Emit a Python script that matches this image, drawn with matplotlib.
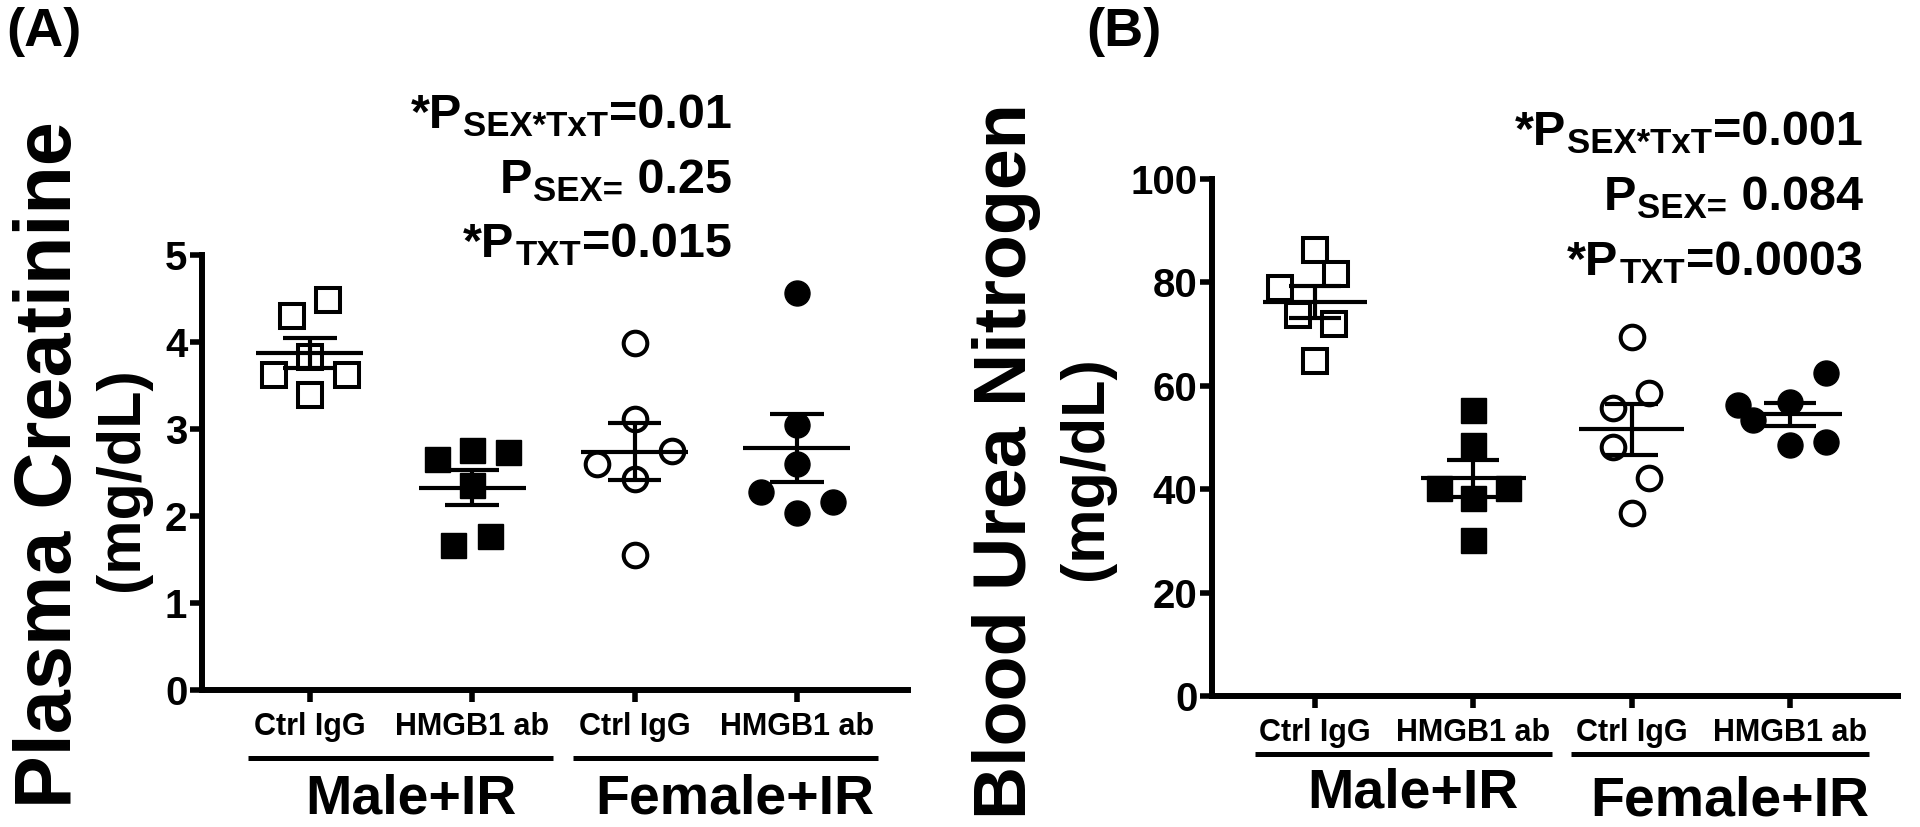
import numpy as np
import matplotlib.pyplot as plt
from matplotlib.transforms import blended_transform_factory

plt.rcParams['font.family'] = ['Liberation Sans', 'DejaVu Sans']
plt.rcParams['font.weight'] = 'bold'

# ---- data ----
treatments = ['Ctrl IgG', 'HMGB1 ab', 'Ctrl IgG', 'HMGB1 ab']
sex_groups = ['Male+IR', 'Female+IR']

creat_male_ctrl = [4.48, 4.30, 3.83, 3.62, 3.62, 3.39]
creat_male_hmgb1 = [2.76, 2.74, 2.65, 2.36, 1.77, 1.67]
creat_female_ctrl = [3.99, 3.11, 2.75, 2.60, 2.42, 1.55]
creat_female_hmgb1 = [4.56, 3.05, 2.60, 2.28, 2.16, 2.04]
# horizontal scatter of each point (category units)
creat_jitter = [[0.11, -0.11, 0, -0.22, 0.23, 0],
                [0, 0.22, -0.22, 0, 0.11, -0.12],
                [0, 0, 0.23, -0.23, 0, 0],
                [0, 0, 0, -0.22, 0.22, 0]]

bun_male_ctrl = [86.2, 81.7, 78.9, 73.7, 71.9, 64.8]
bun_male_hmgb1 = [55.3, 48.5, 40.2, 40.2, 38.3, 30.2]
bun_female_ctrl = [69.4, 58.6, 55.7, 48.2, 42.2, 35.4]
bun_female_hmgb1 = [62.5, 56.3, 56.9, 53.4, 48.5, 49.1]
bun_jitter = [[0, 0.13, -0.22, -0.11, 0.12, 0],
              [0, 0, -0.22, 0.22, 0, 0],
              [0, 0.11, -0.12, -0.12, 0.11, 0],
              [0.23, -0.33, 0, -0.23, 0, 0.23]]

creat_p = [('*P', 'SEX*TxT', '=0.01'), ('P', 'SEX=', ' 0.25'), ('*P', 'TXT', '=0.015')]
bun_p = [('*P', 'SEX*TxT', '=0.001'), ('P', 'SEX=', ' 0.084'), ('*P', 'TXT', '=0.0003')]

W, H = 1920, 827
fig = plt.figure(figsize=(W / 100, H / 100), dpi=100)


def fx(x):
    return x / W


def fy(y):
    return 1 - y / H


markers = [dict(marker='s', mfc='white'), dict(marker='s', mfc='black'),
           dict(marker='o', mfc='white'), dict(marker='o', mfc='black')]


def panel(rect, xlim, ylim, yticks, series, jitter):
    l, r, b, t = rect
    ax = fig.add_axes([fx(l), fy(b), (r - l) / W, (b - t) / H])
    pos = np.arange(1, len(series) + 1)
    for i, vals in enumerate(series):
        vals = np.asarray(vals)
        m = vals.mean()
        sem = vals.std(ddof=1) / np.sqrt(len(vals))
        xs = pos[i] + np.asarray(jitter[i])
        st = markers[i]
        is_open = st['mfc'] == 'white'
        ax.plot(xs, vals, ls='none', marker=st['marker'], mfc=st['mfc'], mec='black',
                ms=17 if is_open else 18, mew=2.9 if is_open else 1,
                zorder=3, clip_on=False)
        ax.hlines(m, pos[i] - 0.33, pos[i] + 0.33, color='black', lw=3, zorder=4)
        ax.vlines(pos[i], m - sem, m + sem, color='black', lw=3, zorder=4)
        ax.hlines([m - sem, m + sem], pos[i] - 0.165, pos[i] + 0.165, color='black', lw=3, zorder=4)
    ax.set_xlim(*xlim)
    ax.set_ylim(*ylim)
    ax.set_yticks(yticks)
    ax.set_xticks(pos, treatments)
    for s in ['top', 'right']:
        ax.spines[s].set_visible(False)
    for s in ['left', 'bottom']:
        ax.spines[s].set_linewidth(4.3)
    ax.tick_params(axis='y', length=8.6, width=4, pad=2, labelsize=29)
    ax.tick_params(axis='x', length=8.6, width=4, pad=7, labelsize=22)
    return ax, pos


def groups(ax, pos, line_y, label_y):
    tr = blended_transform_factory(ax.transData, fig.transFigure)
    for k, name in enumerate(sex_groups):
        a, b = pos[2 * k], pos[2 * k + 1]
        ax.plot([a - 0.38, b + 0.5], [fy(line_y), fy(line_y)], color='black', lw=3.6,
                transform=tr, clip_on=False, solid_capstyle='butt')
        fig.text((a + b) / 2 + 0.12, fy(label_y[k]), name, fontsize=40,
                 ha='center', va='baseline', transform=tr)


def ptext(x_right, y_base, parts, size, sub_size, sub_drop):
    # right-aligned "P" + subscript + value, built piece by piece
    renderer = fig.canvas.get_renderer()
    x = x_right
    specs = [(parts[2], size, 0), (parts[1], sub_size, sub_drop), (parts[0], size, 0)]
    for s, fs, dy in specs:
        t = fig.text(0, 0, s, fontsize=fs, ha='left', va='baseline')
        w = t.get_window_extent(renderer).width
        x -= w
        t.set_position((fx(x), fy(y_base + dy)))
        x -= 1


def ylabel(x_base, y_mid, s, size):
    fig.text(fx(x_base), fy(y_mid), s, rotation=90, rotation_mode='anchor',
             ha='center', va='baseline', fontsize=size)


# ---- panel A ----
axA, posA = panel((202, 908, 690, 255), (0.335, 4.685), (0, 5), range(0, 6),
                  [creat_male_ctrl, creat_male_hmgb1, creat_female_ctrl, creat_female_hmgb1],
                  creat_jitter)
groups(axA, posA, 758, [813, 813])
ylabel(71, 465, 'Plasma Creatinine', 57)
ylabel(138, 479, '(mg/dL)', 44)
fig.text(fx(6), fy(46), '(A)', fontsize=39, ha='left', va='baseline')
for j, parts in enumerate(creat_p):
    ptext(732, [128, 193, 257][j], parts, 35, 25, 8)

# ---- panel B ----
axB, posB = panel((1212, 1898, 696, 179), (0.349, 4.683), (0, 100), range(0, 101, 20),
                  [bun_male_ctrl, bun_male_hmgb1, bun_female_ctrl, bun_female_hmgb1],
                  bun_jitter)
groups(axB, posB, 754, [808, 816])
ylabel(1026, 461, 'Blood Urea Nitrogen', 53)
ylabel(1102, 468, '(mg/dL)', 44)
fig.text(fx(1086), fy(46), '(B)', fontsize=39, ha='left', va='baseline')
for j, parts in enumerate(bun_p):
    ptext(1863, [145, 210, 275][j], parts, 35, 25, 8)

fig.savefig('out.png', dpi=100, facecolor='white')
